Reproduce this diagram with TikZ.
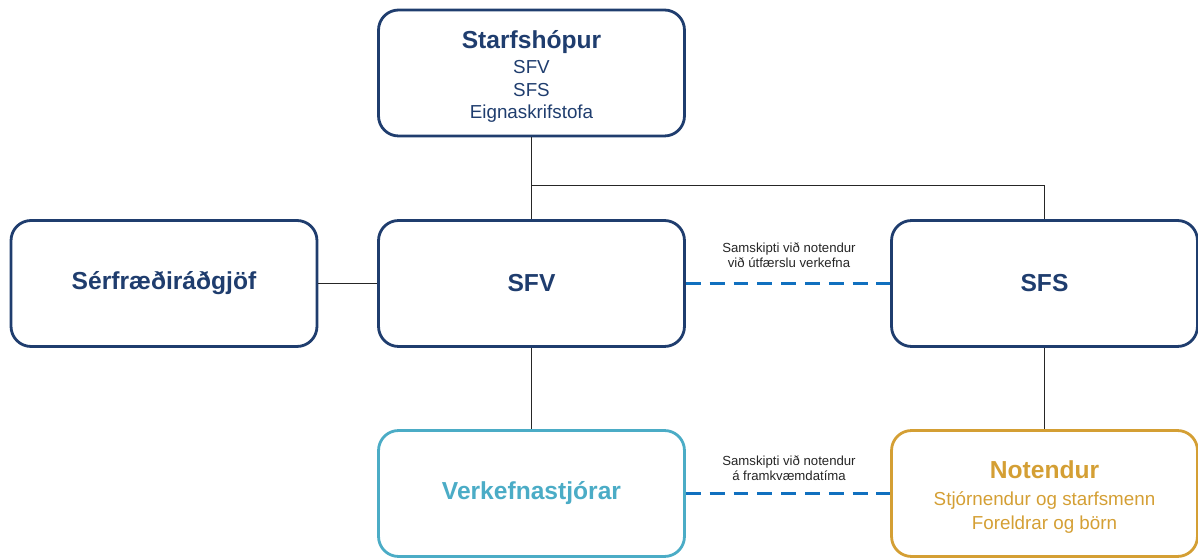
\documentclass[tikz,border=0pt]{standalone}
\usepackage{fontspec}
\setmainfont{Liberation Sans}
\usetikzlibrary{positioning}

\definecolor{navy}{HTML}{1F3D6E}
\definecolor{sky}{HTML}{4BACC6}
\definecolor{gold}{HTML}{D49F34}
\definecolor{linkblue}{HTML}{1070BF}

\newcommand{\boxhead}{\bfseries\fontsize{14}{16}\selectfont}
\newcommand{\boxbody}{\fontsize{10.7}{12.8}\selectfont}
\newcommand{\notetext}{\fontsize{7.5}{8.2}\selectfont}
\newcommand{\headstrut}{\rule{0pt}{14.5pt}}

\begin{document}
\begin{tikzpicture}[x=0.02cm, y=-0.02cm,
    unit/.style={draw=navy, text=navy, line width=1.6pt, rounded corners=0.4cm,
        minimum width=6.12cm, minimum height=2.52cm, align=center, font=\boxbody},
    link/.style={line width=0.5pt, draw=black!85},
    talk/.style={draw=linkblue, line width=1.5pt, dash pattern=on 8.5pt off 5.06pt},
    note/.style={align=center, font=\notetext, text=black!85, inner sep=0pt}]

% canvas
\useasboundingbox (0,0) rectangle (1198,560);

% column and row centres
\def\xL{164}
\def\xM{531.5}
\def\xR{1044.5}
\def\yT{73}
\def\yM{283.5}
\def\yB{493.5}

% --- Boxes ---
\node[unit] (hopur) at (\xM,\yT) {{\boxhead\headstrut Starfshópur}\\[1.5pt] SFV\\ SFS\\ Eignaskrifstofa};
\node[unit] (radgjof) at (\xL,\yM) {\boxhead Sérfræðiráðgjöf};
\node[unit] (sfv) at (\xM,\yM) {\boxhead SFV};
\node[unit] (sfs) at (\xR,\yM) {\boxhead SFS};
\node[unit, draw=sky, text=sky] (stjorar) at (\xM,\yB) {\boxhead Verkefnastjórar};
\node[unit, draw=gold, text=gold] (notendur) at (\xR,\yB) {{\boxhead\headstrut Notendur}\\[2.5pt] Stjórnendur og starfsmenn\\[0.8pt] Foreldrar og börn};

% --- Lines ---
\coordinate (split) at (\xM,185);
\draw[link] (hopur) -- (sfv);
\draw[link] (split) -| (sfs);
\draw[link] (radgjof) -- (sfv);
\draw[link] (sfv) -- (stjorar);
\draw[link] (sfs) -- (notendur);

% --- Communication ---
\draw[talk] (sfv) -- (sfs);
\draw[talk] (stjorar) -- (notendur);
\node[note] (talkI) at (789,255) {Samskipti við notendur\\ við útfærslu verkefna};
\node[note] (talkII) at (789,468) {Samskipti við notendur\\ á framkvæmdatíma};

\end{tikzpicture}
\end{document}
